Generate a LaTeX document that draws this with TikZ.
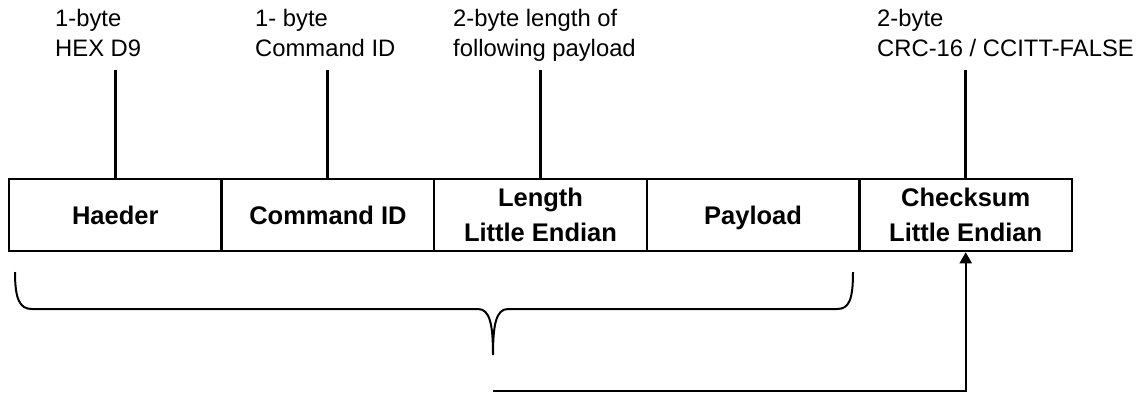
\documentclass[tikz,border=0pt]{standalone}
\usepackage{fontspec}
\setmainfont{Liberation Sans}
\usetikzlibrary{arrows.meta}

\tikzset{
  cell/.style={draw, line width=2.5pt, minimum width=212.6pt, minimum height=72pt,
    inner sep=0pt, align=center, text depth=0pt, font=\fontsize{25.5}{35}\selectfont\bfseries},
  note/.style={anchor=base west, inner sep=0pt, font=\fontsize{23.8}{30}\selectfont},
  leader/.style={line width=3pt},
  bracepath/.style={line width=2pt},
  feed/.style={line width=2pt, -{Triangle[width=12pt,length=11pt]}}
}

\begin{document}
\begin{tikzpicture}[x=1pt, y=-1pt]
  \useasboundingbox (0,0) rectangle (1146,392);

  % frame fields
  \node[cell] (hdr) at (115.3,215) {Haeder};
  \node[cell] (cmd) at (327.9,215) {Command ID};
  \node[cell] (len) at (540.5,215) {Length\\Little Endian};
  \node[cell] (pay) at (753.1,215) {Payload};
  \node[cell] (crc) at (965.7,215) {Checksum\\Little Endian};

  % field descriptions
  \node[note] (hdrA) at (55,26.7) {1-byte};
  \node[note] (hdrB) at (55,56.7) {HEX D9};
  \node[note] (cmdA) at (255,26.7) {1- byte};
  \node[note] (cmdB) at (255,56.7) {Command ID};
  \node[note] (lenA) at (453,26.7) {2-byte length of};
  \node[note] (lenB) at (453,56.7) {following payload};
  \node[note] (crcA) at (877,26.7) {2-byte};
  \node[note] (crcB) at (877,56.7) {CRC-16 / CCITT-FALSE};

  % leader lines from descriptions to fields
  \coordinate (top) at (0,70);
  \draw[leader] (hdr.north) -- (hdr.north |- top);
  \draw[leader] (cmd.north) -- (cmd.north |- top);
  \draw[leader] (len.north) -- (len.north |- top);
  \draw[leader] (crc.north) -- (crc.north |- top);

  % brace under the covered fields
  \coordinate (tip) at (493,355);
  \draw[bracepath] (15,272) .. controls (15,300) and (20,309) .. (32,309)
    -- (478,309) .. controls (490,309) and (493,325) .. (tip)
    .. controls (493,325) and (496,309) .. (508,309)
    -- (837,309) .. controls (849,309) and (853,300) .. (853,272);

  % checksum computed over the braced fields
  \coordinate (feedstart) at (493,391);
  \draw[feed] (feedstart) -- (crc.south |- feedstart) -- (crc.south);
\end{tikzpicture}
\end{document}
